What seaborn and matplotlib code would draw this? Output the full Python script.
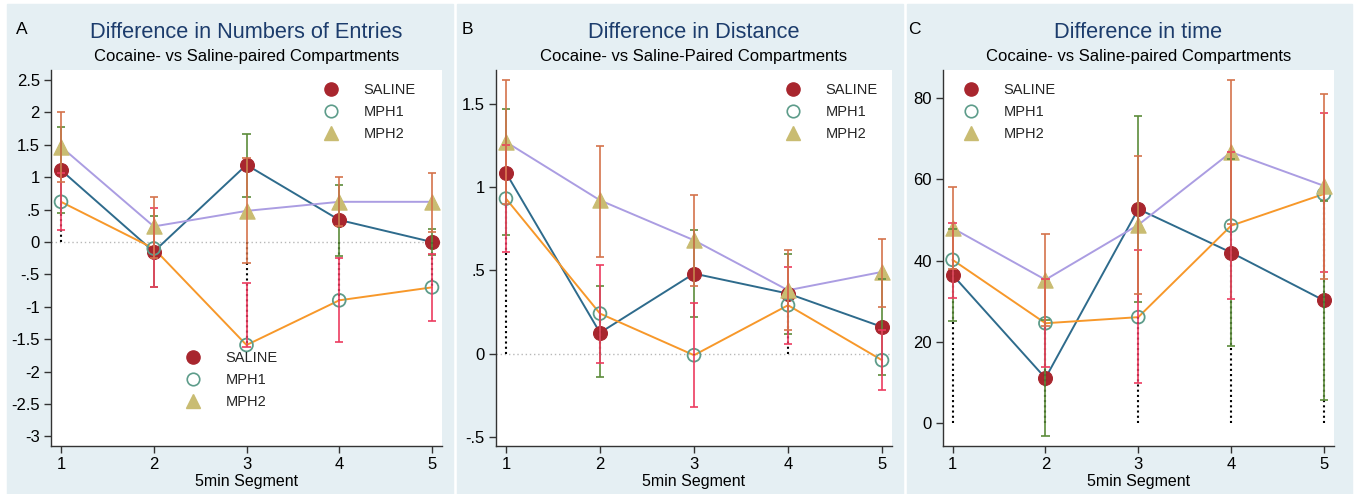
import matplotlib
matplotlib.use("Agg")
import matplotlib.pyplot as plt
from matplotlib.lines import Line2D
from matplotlib.patches import Rectangle
import seaborn as sns
import numpy as np

# data
segments = [1, 2, 3, 4, 5]
groups = ["SALINE", "MPH1", "MPH2"]

entries_saline = [1.11, -0.15, 1.19, 0.34, 0.0]
entries_mph1 = [0.62, -0.10, -1.59, -0.90, -0.70]
entries_mph2 = [1.47, 0.24, 0.48, 0.62, 0.62]
entries_saline_lo = [0.45, -0.70, 0.70, -0.21, -0.20]
entries_saline_hi = [1.77, 0.40, 1.67, 0.88, 0.20]
entries_mph1_lo = [0.18, -0.70, -1.62, -1.55, -1.22]
entries_mph1_hi = [1.06, 0.52, -0.64, -0.24, -0.19]
entries_mph2_lo = [0.92, -0.24, -0.33, 0.24, 0.15]
entries_mph2_hi = [2.01, 0.70, 1.29, 1.00, 1.07]

distance_saline = [1.085, 0.125, 0.48, 0.36, 0.16]
distance_mph1 = [0.93, 0.24, -0.01, 0.29, -0.04]
distance_mph2 = [1.27, 0.92, 0.68, 0.38, 0.49]
distance_saline_lo = [0.71, -0.14, 0.22, 0.12, -0.13]
distance_saline_hi = [1.47, 0.405, 0.74, 0.60, 0.45]
distance_mph1_lo = [0.61, -0.055, -0.32, 0.06, -0.22]
distance_mph1_hi = [1.25, 0.53, 0.305, 0.52, 0.14]
distance_mph2_lo = [0.90, 0.58, 0.405, 0.14, 0.28]
distance_mph2_hi = [1.64, 1.245, 0.95, 0.62, 0.69]

time_saline = [36.5, 11.1, 52.7, 42.0, 30.2]
time_mph1 = [40.2, 24.6, 26.1, 48.6, 56.4]
time_mph2 = [48.0, 35.3, 48.8, 66.7, 58.4]
time_saline_lo = [25.2, -3.1, 29.8, 19.0, 5.7]
time_saline_hi = [47.8, 25.3, 75.7, 65.1, 54.7]
time_mph1_lo = [30.8, 13.8, 9.8, 30.5, 37.1]
time_mph1_hi = [49.2, 35.4, 42.7, 66.7, 76.2]
time_mph2_lo = [38.0, 24.0, 31.8, 48.9, 35.4]
time_mph2_hi = [58.0, 46.6, 65.8, 84.5, 81.1]

entries_ticks = [2.5, 2, 1.5, 1, 0.5, 0, -0.5, -1, -1.5, -2, -2.5, -3]
entries_ticklabels = ["2.5", "2", "1.5", "1", ".5", "0", "-.5", "-1", "-1.5", "-2", "-2.5", "-3"]
distance_ticks = [1.5, 1, 0.5, 0, -0.5]
distance_ticklabels = ["1.5", "1", ".5", "0", "-.5"]
time_ticks = [0, 20, 40, 60, 80]
time_ticklabels = ["0", "20", "40", "60", "80"]

# colours
BG = "#e5eff3"
NAVY = "#1c3c6c"
LINE_COL = {"SALINE": "#2e6b8c", "MPH1": "#f7982a", "MPH2": "#ab9de2"}
BAR_COL = {"SALINE": "#5b8c3a", "MPH1": "#ec3b5f", "MPH2": "#d4734b"}
SAL_MK = "#a8262e"
MPH1_MK = "#5d9c8a"
MPH2_MK = "#c9bc72"

sns.set_theme(style="ticks")
plt.rcParams["font.family"] = ["Liberation Sans", "DejaVu Sans"]

W, H = 1355, 494
fig = plt.figure(figsize=(W / 100, H / 100), dpi=100)
fig.patch.set_facecolor("white")

for x0, x1 in [(7, 453), (457, 903), (907, 1352)]:
    fig.patches.append(Rectangle((x0 / W, 0), (x1 - x0) / W, (H - 4) / H,
                                 transform=fig.transFigure, color=BG, zorder=-1))


def px_axes(left, right, top=70, bottom=446):
    return fig.add_axes([left / W, (H - bottom) / H, (right - left) / W, (bottom - top) / H])


panels = [
    dict(letter="A", title="Difference in Numbers of Entries",
         sub="Cocaine- vs Saline-paired Compartments",
         box=(51, 442), xlim=(0.892, 5.108), ylim=(-3.148, 2.654),
         ticks=entries_ticks, ticklabels=entries_ticklabels, zero=True,
         vals={"SALINE": entries_saline, "MPH1": entries_mph1, "MPH2": entries_mph2},
         lo={"SALINE": entries_saline_lo, "MPH1": entries_mph1_lo, "MPH2": entries_mph2_lo},
         hi={"SALINE": entries_saline_hi, "MPH1": entries_mph1_hi, "MPH2": entries_mph2_hi},
         legends=[(331, 90), (193, 358)]),
    dict(letter="B", title="Difference in Distance",
         sub="Cocaine- vs Saline-Paired Compartments",
         box=(496, 892), xlim=(0.894, 5.106), ylim=(-0.555, 1.702),
         ticks=distance_ticks, ticklabels=distance_ticklabels, zero=True,
         vals={"SALINE": distance_saline, "MPH1": distance_mph1, "MPH2": distance_mph2},
         lo={"SALINE": distance_saline_lo, "MPH1": distance_mph1_lo, "MPH2": distance_mph2_lo},
         hi={"SALINE": distance_saline_hi, "MPH1": distance_mph1_hi, "MPH2": distance_mph2_hi},
         legends=[(793, 90)]),
    dict(letter="C", title="Difference in time",
         sub="Cocaine- vs Saline-paired Compartments",
         box=(943, 1334), xlim=(0.897, 5.108), ylim=(-5.6, 86.9),
         ticks=time_ticks, ticklabels=time_ticklabels, zero=False,
         vals={"SALINE": time_saline, "MPH1": time_mph1, "MPH2": time_mph2},
         lo={"SALINE": time_saline_lo, "MPH1": time_mph1_lo, "MPH2": time_mph2_lo},
         hi={"SALINE": time_saline_hi, "MPH1": time_mph1_hi, "MPH2": time_mph2_hi},
         legends=[(971, 90)]),
]

handles = [
    Line2D([], [], ls="", marker="o", ms=9.5, mfc=SAL_MK, mec=SAL_MK),
    Line2D([], [], ls="", marker="o", ms=9, mfc="none", mec=MPH1_MK, mew=1.2),
    Line2D([], [], ls="", marker="^", ms=10, mfc=MPH2_MK, mec=MPH2_MK),
]

for p in panels:
    left, right = p["box"]
    ax = px_axes(left, right)
    ax.set_facecolor("white")
    x = np.array(segments)

    if p["zero"]:
        ax.axhline(0, color="#b8b8b8", lw=1, ls=(0, (1, 2)), zorder=1)

    # connecting lines
    for g in groups:
        sns.lineplot(x=x, y=p["vals"][g], ax=ax, color=LINE_COL[g], lw=1.4, zorder=2)

    # markers
    sns.scatterplot(x=x, y=p["vals"]["SALINE"], ax=ax, marker="o", s=100,
                    color=SAL_MK, edgecolor=SAL_MK, zorder=3)
    ax.scatter(x, p["vals"]["MPH1"], marker="o", s=85, facecolors="none",
               edgecolors=MPH1_MK, linewidths=1.3, zorder=3)
    sns.scatterplot(x=x, y=p["vals"]["MPH2"], ax=ax, marker="^", s=120,
                    color=MPH2_MK, edgecolor=MPH2_MK, zorder=3)

    # drop lines
    ax.vlines(x, 0, p["vals"]["MPH1"], colors="black", lw=1.5, ls=(0, (1, 1.5)), zorder=4)

    # interval caps
    for g in ["SALINE", "MPH1", "MPH2"]:
        lo = np.array(p["lo"][g])
        hi = np.array(p["hi"][g])
        ax.vlines(x, lo, hi, colors=BAR_COL[g], lw=1.4, alpha=0.85, zorder=5)
        for yy in (lo, hi):
            ax.hlines(yy, x - 0.045, x + 0.045, colors=BAR_COL[g], lw=1.4, alpha=0.85, zorder=5)

    ax.set_xlim(*p["xlim"])
    ax.set_ylim(*p["ylim"])
    ax.set_xticks(segments)
    ax.set_xticklabels([str(s) for s in segments], fontsize=12)
    ax.set_yticks(p["ticks"])
    ax.set_yticklabels(p["ticklabels"], fontsize=12)
    ax.tick_params(axis="both", length=5, width=1, color="#333333", labelcolor="black", pad=3)
    ax.set_xlabel("5min Segment", fontsize=11.5, labelpad=1, color="black")
    ax.set_ylabel("")
    for s in ["top", "right"]:
        ax.spines[s].set_visible(False)
    for s in ["left", "bottom"]:
        ax.spines[s].set_color("#333333")
        ax.spines[s].set_linewidth(1)

    # titles
    cx = (left + right) / 2 / W
    fig.text(cx, 1 - 33 / H, p["title"], ha="center", va="center", fontsize=15.7, color=NAVY)
    fig.text(cx, 1 - 57 / H, p["sub"], ha="center", va="center", fontsize=12, color="black")
    fig.text((left - 29) / W, 1 - 29 / H, p["letter"], ha="center", va="center",
             fontsize=12.5, color="black")

    for k, (mx, my) in enumerate(p["legends"]):
        leg = ax.legend(handles, groups, loc="upper left",
                        bbox_to_anchor=((mx - 8.3) / W, 1 - (my - 7) / H),
                        bbox_transform=fig.transFigure, frameon=False, fontsize=10.5,
                        handlelength=1.2, handletextpad=1.6, labelspacing=0.55,
                        handleheight=0.7, borderpad=0, borderaxespad=0)
        if k < len(p["legends"]) - 1:
            ax.add_artist(leg)

fig.savefig("out.png", dpi=100, facecolor=fig.get_facecolor())
